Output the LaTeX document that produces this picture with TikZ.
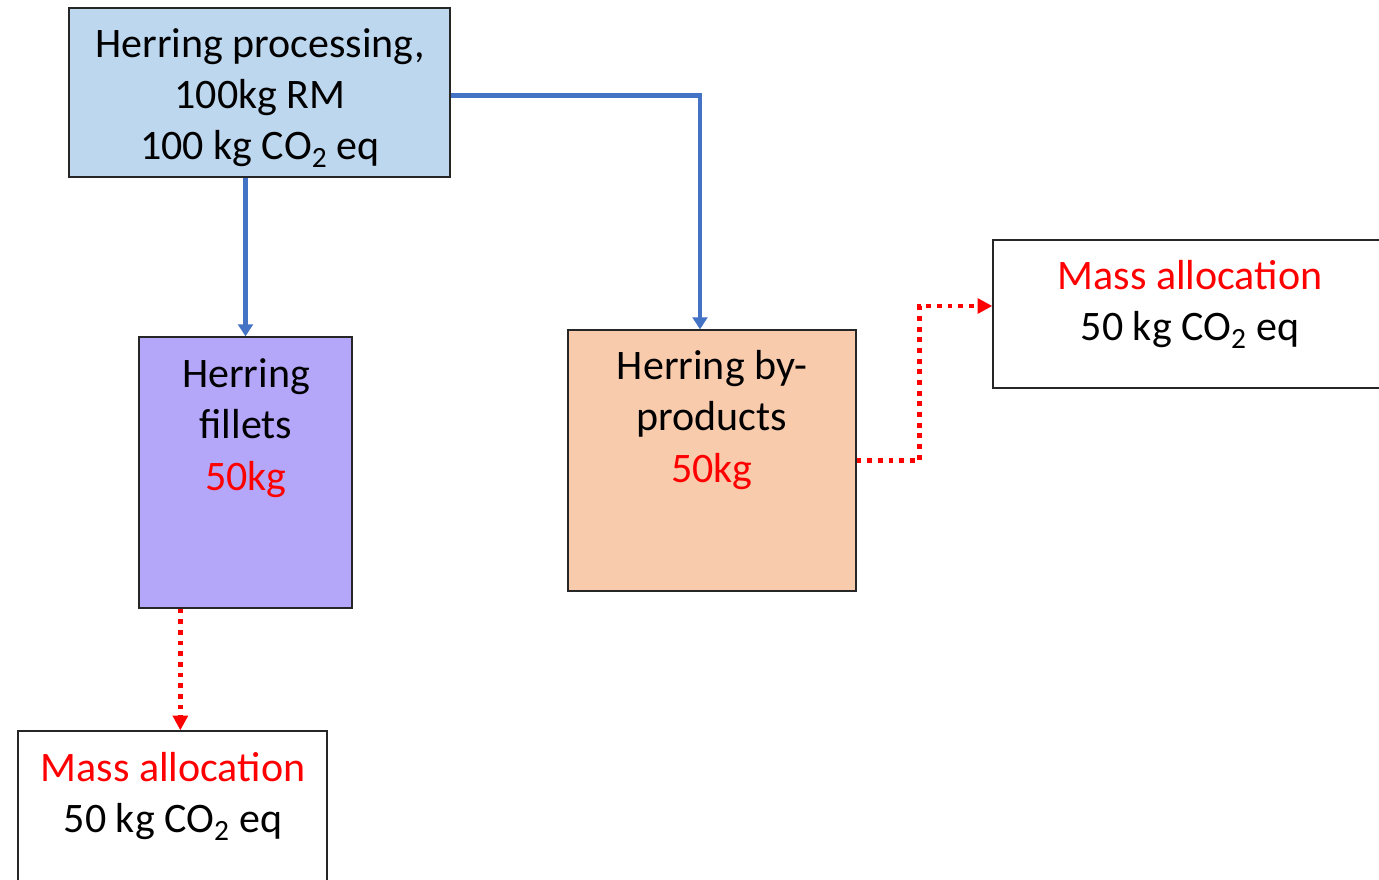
\documentclass[tikz,border=0pt]{standalone}
\usepackage{fontspec}
\setmainfont{Carlito}
\usetikzlibrary{arrows.meta,positioning,calc}
\definecolor{procblue}{RGB}{189,215,238}
\definecolor{filletpurple}{RGB}{180,167,250}
\definecolor{byprodorange}{RGB}{248,203,173}
\definecolor{flowblue}{RGB}{68,114,196}
\newcommand{\COtwo}{CO\textsubscript{2}}
\tikzset{
  box/.style={rectangle, draw=black!85, fill=#1, line width=1pt, inner sep=0pt},
  box/.default=white,
  txt/.style={align=center, font=\fontsize{31.5}{38.5}\selectfont, inner sep=0pt},
  flow/.style={-{Triangle[length=9pt,width=11pt]}, flowblue, line width=3.6pt},
  alloc/.style={-{Triangle[length=11pt,width=11pt]}, red, line width=3.6pt, dash pattern=on 3.6pt off 4.4pt},
}
\begin{document}
\begin{tikzpicture}[x=0.75pt,y=-0.75pt]
\useasboundingbox (0,0) rectangle (1379,879);
\clip (0,0) rectangle (1379,879);
% boxes
\node[box=procblue, minimum width=285.75pt, minimum height=126.75pt] (proc) at (259.5,92.5) {};
\node[box=filletpurple, minimum width=159.75pt, minimum height=203.25pt] (fillets) at (245.5,472.5) {};
\node[box=byprodorange, minimum width=216pt, minimum height=195.75pt] (byprod) at (712,460.5) {};
\node[box, minimum width=305.25pt, minimum height=111pt] (massR) at (1196.5,314) {};
\node[box, minimum width=231.75pt, minimum height=126.75pt] (massB) at (172.5,815.5) {};
% texts
\node[txt] (proc-txt) at (260,98) {Herring processing,\\ 100kg RM\\ 100 kg \COtwo{} eq};
\node[txt] (fillets-txt) at (246,428) {Herring\\ fillets\\ \textcolor{red}{50kg}};
\node[txt] (byprod-txt) at (712,420) {Herring by-\\ products\\ \textcolor{red}{50kg}};
\node[txt] (massR-txt) at (1190,304) {\textcolor{red}{Mass allocation}\\ 50 kg \COtwo{} eq};
\node[txt] (massB-txt) at (173,796) {\textcolor{red}{Mass allocation}\\ 50 kg \COtwo{} eq};
% flows
\draw[flow] (proc.south -| fillets.north) -- (fillets.north);
\draw[flow] ([yshift=-2pt]proc.east) -| ([xshift=-9pt]byprod.north);
% allocations
\draw[alloc] (byprod.east) -- ++(63,0) |- ([yshift=6pt]massR.west);
\draw[alloc] ([xshift=31.5pt]fillets.south west) -- ([xshift=31.5pt]fillets.south west |- massB.north);
\end{tikzpicture}
\end{document}
